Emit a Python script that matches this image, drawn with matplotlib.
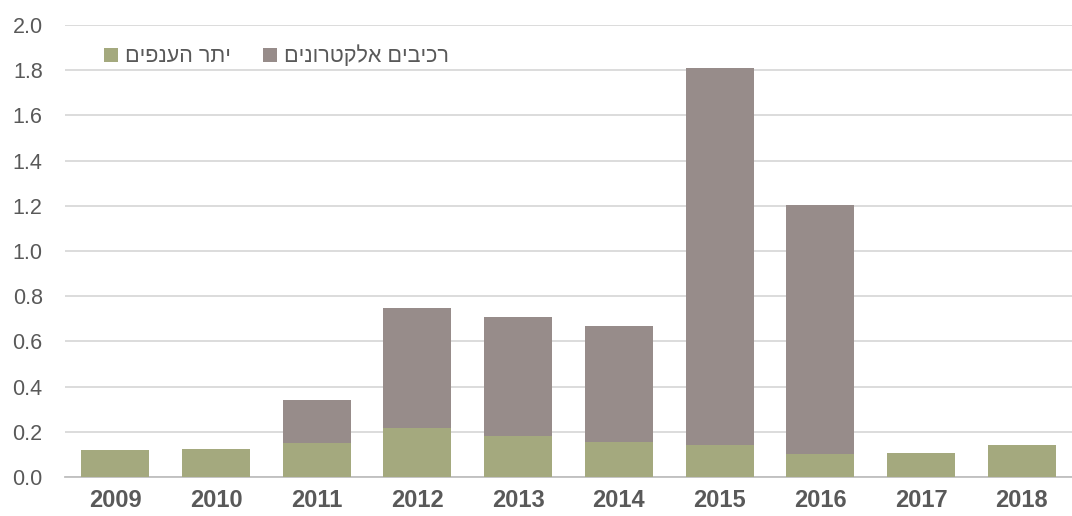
import matplotlib.pyplot as plt
import numpy as np

# values
years = ['2009', '2010', '2011', '2012', '2013', '2014', '2015', '2016', '2017', '2018']
other = [0.12, 0.125, 0.149, 0.215, 0.180, 0.155, 0.141, 0.102, 0.106, 0.141]
electronics = [0.0, 0.0, 0.19, 0.533, 0.526, 0.514, 1.67, 1.10, 0.0, 0.0]

# hebrew labels (reversed for display since matplotlib has no bidi)
label_other = 'יתר הענפים'[::-1]
label_elec = 'רכיבים אלקטרונים'[::-1]

green = '#A4A97E'
grey = '#978C8A'
txt = '#595959'

plt.rcParams['font.family'] = ['Liberation Sans', 'DejaVu Sans']

fig = plt.figure(figsize=(10.72, 5.16), dpi=100)
ax = fig.add_axes([0.0606, 0.0756, 0.9394, 0.876])

x = np.arange(len(years))
ax.bar(x, other, width=0.675, color=green, label=label_other, zorder=3)
ax.bar(x, electronics, width=0.675, bottom=other, color=grey, label=label_elec, zorder=3)

ax.set_xlim(-0.5, 9.5)
ax.set_ylim(0, 2.0)
ax.set_yticks(np.arange(0, 2.01, 0.2))
ax.set_yticklabels(['%.1f' % v for v in np.arange(0, 2.01, 0.2)])
ax.set_xticks(x)
ax.set_xticklabels(years, fontweight='bold')

ax.tick_params(axis='y', length=0, pad=16, labelsize=15.5, labelcolor=txt)
ax.tick_params(axis='x', length=0, pad=9, labelsize=17, labelcolor=txt)

ax.grid(axis='y', color='#D9D9D9', linewidth=1.3, zorder=0)
for s in ['top', 'right', 'left']:
    ax.spines[s].set_visible(False)
ax.spines['bottom'].set_color('#BFBFBF')
ax.spines['bottom'].set_linewidth(1.3)

leg = ax.legend(loc='upper left', bbox_to_anchor=(0.02, 0.997), ncol=2, frameon=False,
                fontsize=15.5, handlelength=0.65, handleheight=0.65, handletextpad=0.3,
                columnspacing=1.5, labelcolor=txt)

fig.savefig('out.png', dpi=100, facecolor='white')
